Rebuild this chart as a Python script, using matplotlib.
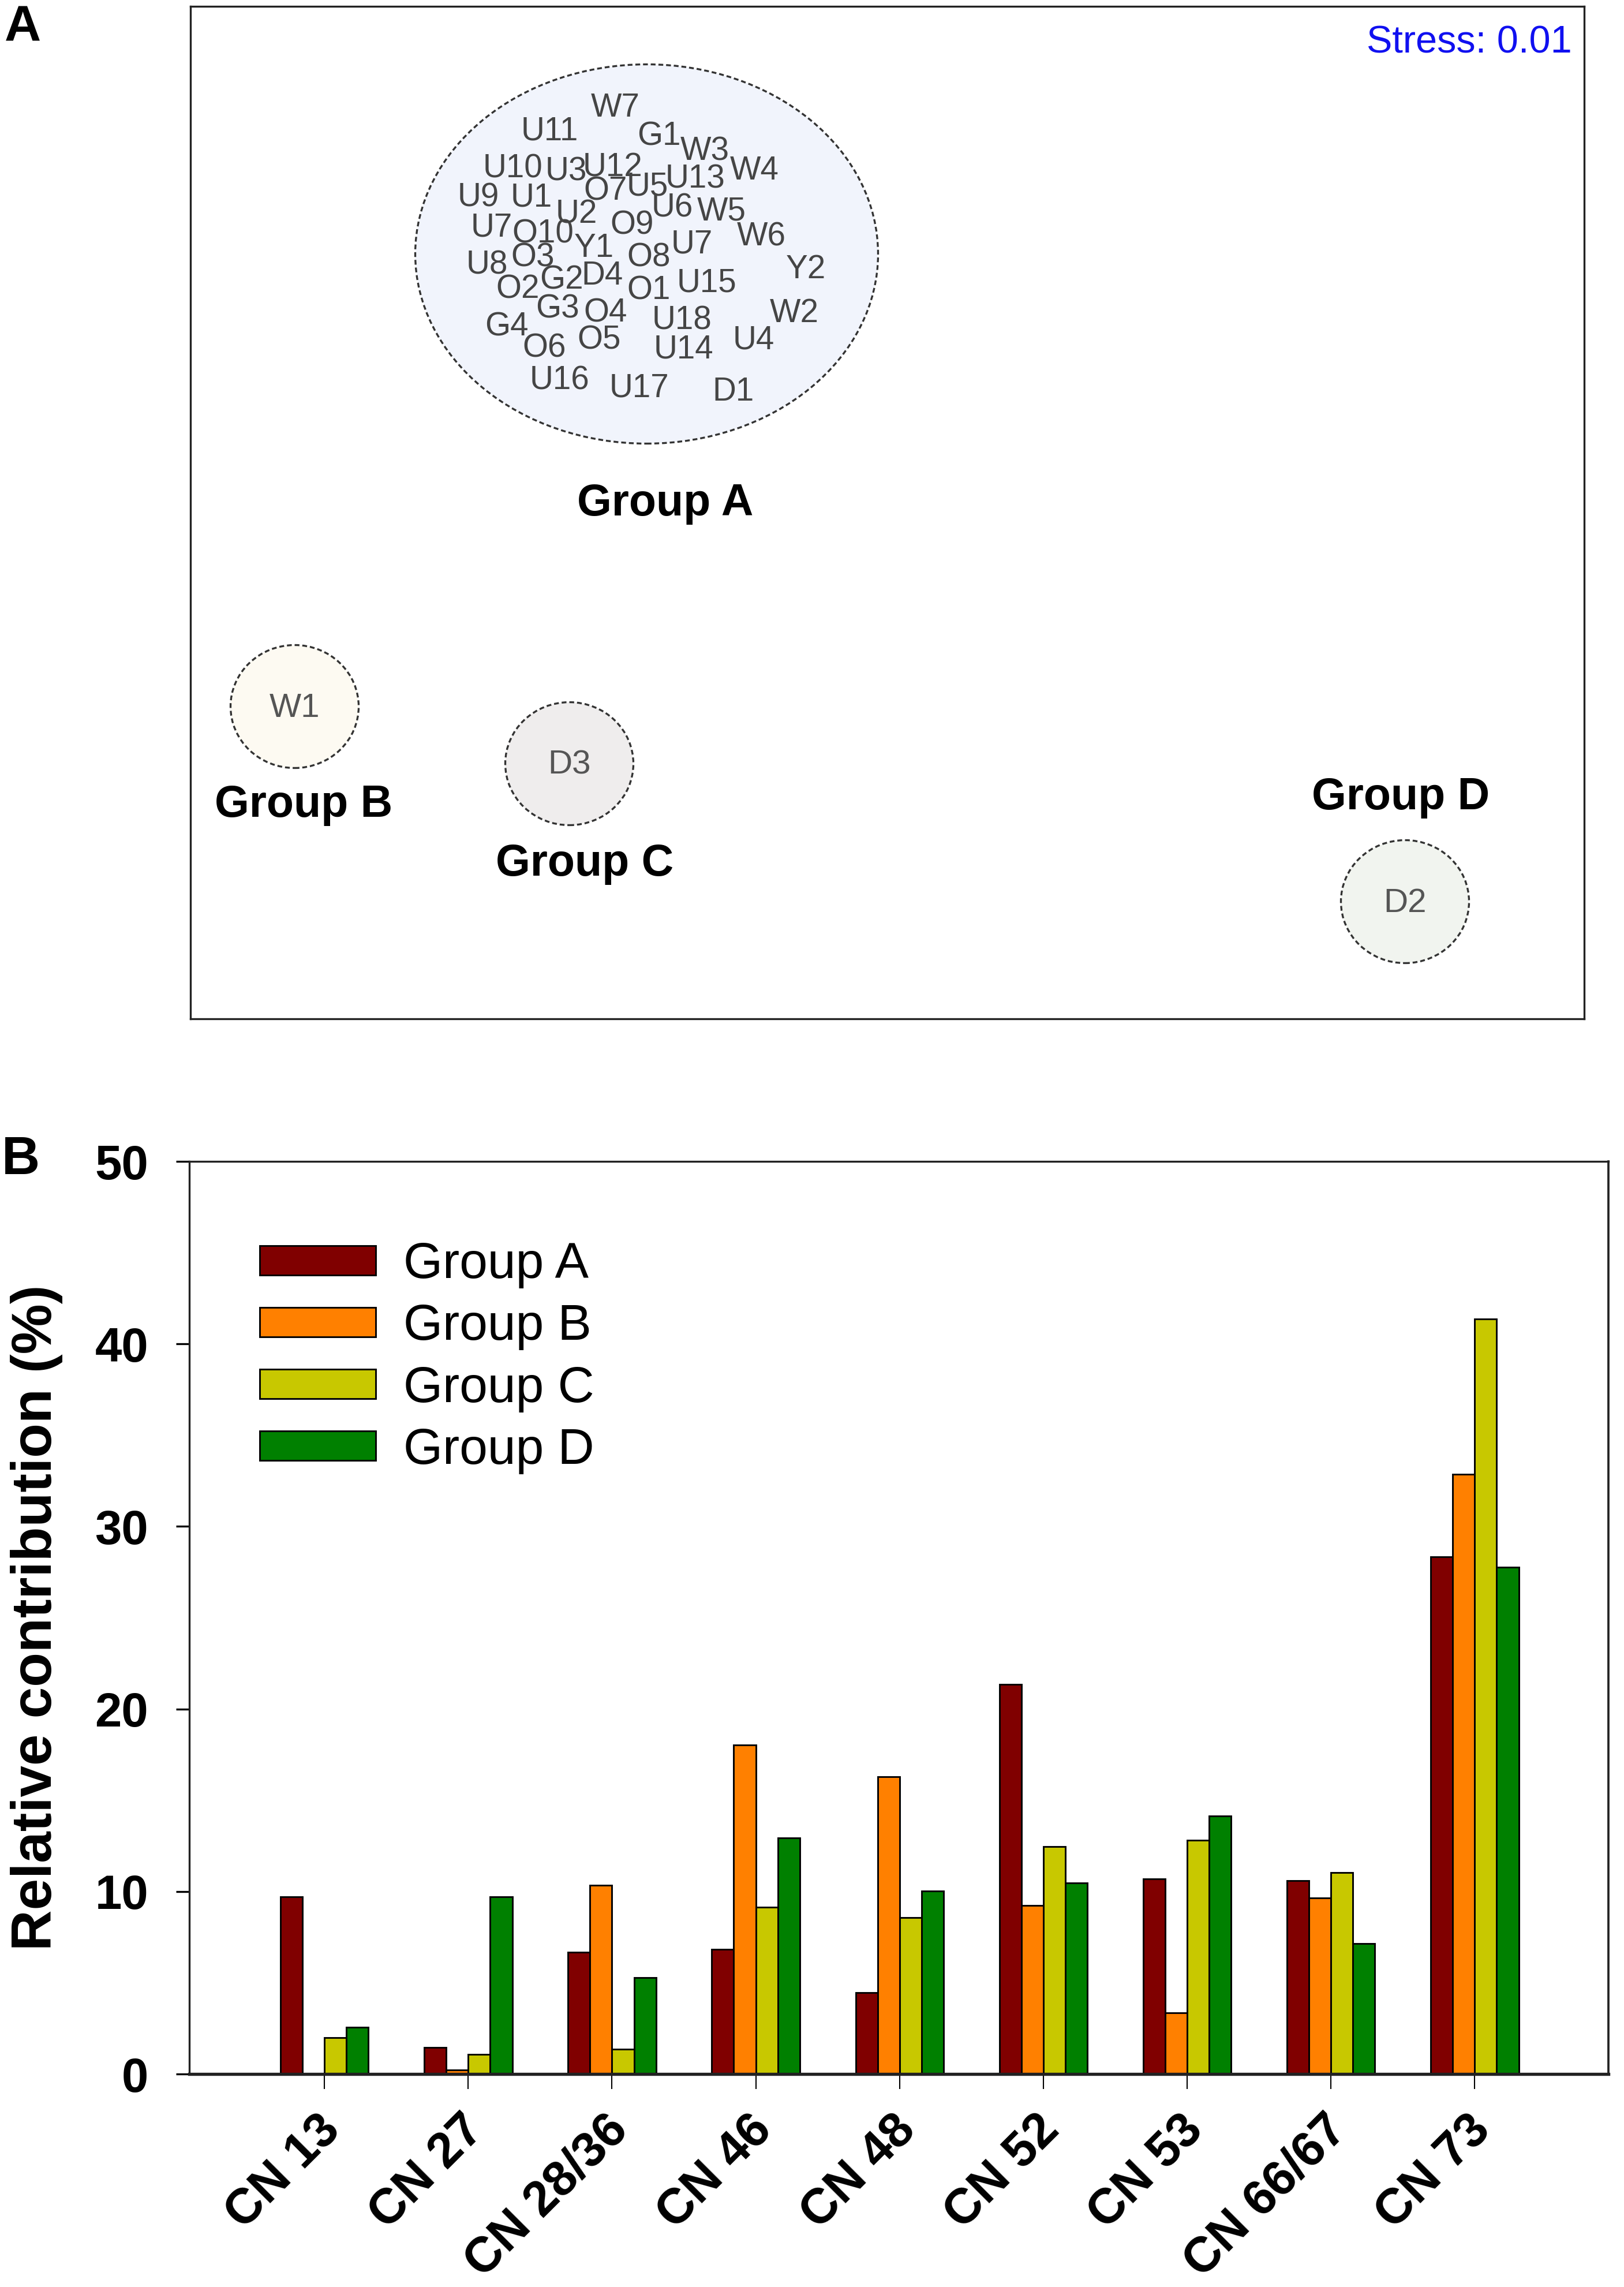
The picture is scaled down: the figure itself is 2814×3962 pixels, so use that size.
import numpy as np
import matplotlib
matplotlib.use("Agg")
import matplotlib.pyplot as plt
from matplotlib.patches import Ellipse
from matplotlib.transforms import ScaledTranslation

plt.rcParams['font.family'] = ['Liberation Sans', 'DejaVu Sans']

# ---- Panel A: NMDS ordination (sample labels) ----
samples = ['W7', 'U11', 'G1', 'W3', 'U10', 'U3', 'U12', 'W4', 'U13', 'O7', 'U5',
           'U9', 'U1', 'U2', 'O9', 'U6', 'W5', 'U7', 'O10', 'W6', 'Y1', 'U7',
           'O8', 'U8', 'O3', 'Y2', 'G2', 'D4', 'O1', 'U15', 'O2', 'W2', 'G3',
           'O4', 'U18', 'G4', 'U4', 'O6', 'O5', 'U14', 'U16', 'U17', 'D1']
nmds1 = [-0.471, -0.585, -0.396, -0.316, -0.649, -0.557, -0.476, -0.230, -0.333, -0.488, -0.416,
         -0.709, -0.617, -0.539, -0.442, -0.373, -0.287, -0.686, -0.597, -0.218, -0.508, -0.339,
         -0.413, -0.694, -0.614, -0.141, -0.565, -0.494, -0.413, -0.313, -0.640, -0.161, -0.571,
         -0.488, -0.356, -0.660, -0.232, -0.594, -0.499, -0.353, -0.568, -0.430, -0.267]
nmds2 = [0.701, 0.660, 0.651, 0.625, 0.595, 0.590, 0.597, 0.592, 0.577, 0.556, 0.564,
         0.545, 0.545, 0.516, 0.497, 0.527, 0.521, 0.493, 0.482, 0.477, 0.458, 0.464,
         0.441, 0.428, 0.441, 0.421, 0.402, 0.410, 0.384, 0.397, 0.386, 0.345, 0.352,
         0.345, 0.332, 0.321, 0.298, 0.284, 0.298, 0.282, 0.228, 0.215, 0.209]

# single-member groups
single_names = ['W1', 'D3', 'D2']
single_x = [-1.027, -0.551, 0.897]
single_y = [-0.336, -0.435, -0.674]
single_fill = ['#fdfaf2', '#efeded', '#f1f4ef']

# group ellipses (center x, center y, width, height)
grpA_ellipse = (-0.417, 0.448, 0.802, 0.657)
group_labels = ['Group A', 'Group B', 'Group C', 'Group D']
group_lab_x = [-0.385, -1.011, -0.524, 0.890]
group_lab_y = [0.015, -0.507, -0.609, -0.494]

# ---- Panel B: relative contribution ----
congeners = ['CN 13', 'CN 27', 'CN 28/36', 'CN 46', 'CN 48', 'CN 52', 'CN 53', 'CN 66/67', 'CN 73']
group_a = [9.70, 1.47, 6.68, 6.82, 4.45, 21.35, 10.69, 10.59, 28.34]
group_b = [0.0, 0.23, 10.35, 18.02, 16.28, 9.25, 3.35, 9.66, 32.87]
group_c = [1.98, 1.09, 1.37, 9.15, 8.57, 12.47, 12.82, 11.03, 41.37]
group_d = [2.57, 9.70, 5.27, 12.95, 10.04, 10.48, 14.15, 7.16, 27.76]
bar_colors = ['#800000', '#ff8000', '#c8c800', '#008000']

fig = plt.figure(figsize=(2814 / 300, 3962 / 300), dpi=300)

# Panel A
axA = fig.add_axes([0.11727, 0.55452, 0.85821, 0.44271])
axA.set_xlim(-1.2075, 1.2075)
axA.set_ylim(-0.877, 0.877)
axA.set_xticks([])
axA.set_yticks([])
for s in axA.spines.values():
    s.set_linewidth(0.8)
    s.set_color('#222222')

cx, cy, w, h = grpA_ellipse
axA.add_patch(Ellipse((cx, cy), w, h, facecolor='#f1f4fc', edgecolor='#333333',
                      linewidth=0.8, linestyle=(0, (2.5, 1.5)), zorder=1))
for name, x, y in zip(samples, nmds1, nmds2):
    axA.text(x, y, name, fontsize=13.6, color='#454545', ha='center', va='center', zorder=3)

for name, x, y, fc in zip(single_names, single_x, single_y, single_fill):
    axA.add_patch(Ellipse((x, y), 0.222, 0.213, facecolor=fc, edgecolor='#333333',
                          linewidth=0.8, linestyle=(0, (2.5, 1.5)), zorder=1))
    axA.text(x, y - 0.003, name, fontsize=14, color='#555555', ha='center', va='center', zorder=3)

for lab, x, y in zip(group_labels, group_lab_x, group_lab_y):
    axA.text(x, y, lab, fontsize=18.5, fontweight='bold', ha='center', va='center')

axA.text(1.186, 0.813, 'Stress: 0.01', fontsize=16, color='#1010f0', ha='right', va='center')

# Panel B
axB = fig.add_axes([0.11656, 0.09313, 0.87385, 0.39904])
x = np.arange(len(congeners))
bw = 0.153
for i, (vals, col, lab) in enumerate(zip([group_a, group_b, group_c, group_d], bar_colors, group_labels)):
    axB.bar(x + (i - 1.5) * bw, vals, width=bw, color=col, edgecolor='black',
            linewidth=0.7, label=lab, zorder=2)

axB.set_xlim(-0.94, 8.93)
axB.set_ylim(0, 50)
axB.set_yticks([0, 10, 20, 30, 40, 50])
axB.set_xticks(x)
axB.set_xticklabels([])
# rotated category labels, anchored at their right end just below each tick
lab_trans = axB.get_xaxis_transform() + ScaledTranslation(3.6 / 72, -20.2 / 72, fig.dpi_scale_trans)
for xi, lab in zip(x, congeners):
    axB.text(xi, 0, lab, transform=lab_trans, rotation=45, ha='right', va='center',
             rotation_mode='anchor', fontsize=20.5, fontweight='bold')
axB.tick_params(axis='x', direction='out', length=6.2, width=0.5)
axB.tick_params(axis='y', direction='out', length=5.5, width=0.8, pad=11.5, labelsize=20)
for t in axB.get_yticklabels():
    t.set_fontweight('bold')
for side, lw in [('left', 0.8), ('top', 0.8), ('right', 0.9), ('bottom', 1.3)]:
    axB.spines[side].set_linewidth(lw)
    axB.spines[side].set_color('#222222')

axB.set_ylabel('Relative contribution (%)', fontsize=23.5, fontweight='bold')
axB.yaxis.set_label_coords(-0.089, 0.5)

axB.legend(loc='upper left', bbox_to_anchor=(0.0496, 0.912), frameon=False, fontsize=21,
           handlelength=2.3, handleheight=0.52, handletextpad=0.55, labelspacing=0.3,
           borderaxespad=0, borderpad=0)

# panel letters
fig.text(39 / 2814, 1 - 48 / 3962, 'A', fontsize=21, fontweight='bold', ha='center', va='center')
fig.text(36 / 2814, 1 - 2010 / 3962, 'B', fontsize=22, fontweight='bold', ha='center', va='center')

fig.savefig('out.png', dpi=300, facecolor='white')
